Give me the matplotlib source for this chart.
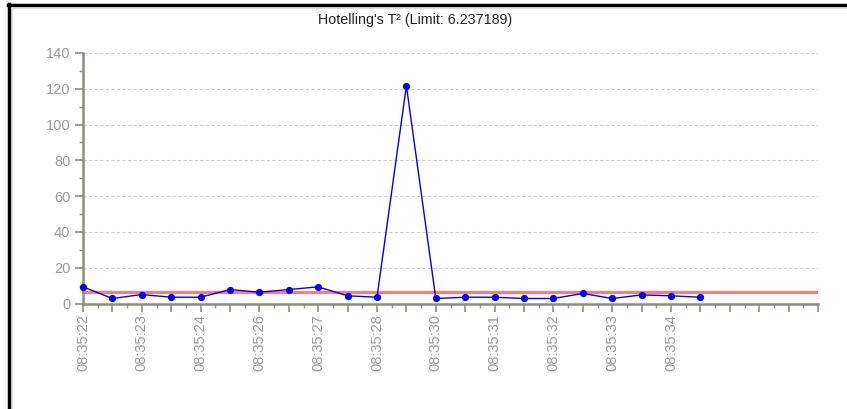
import matplotlib
matplotlib.use("Agg")
import matplotlib.pyplot as plt
from matplotlib.lines import Line2D
from matplotlib.ticker import MultipleLocator

plt.rcParams['font.family'] = ['Liberation Sans', 'DejaVu Sans']

t2_values = [9.3, 2.8, 5.0, 3.5, 3.5, 7.8, 6.3, 7.8, 9.3, 4.3, 3.5,
             121.7, 2.8, 3.5, 3.5, 2.8, 2.8, 5.6, 2.8, 4.8, 4.3, 3.5]
limit = 6.237189
tick_labels = ["08:35:22", "08:35:23", "08:35:24", "08:35:26", "08:35:27",
               "08:35:28", "08:35:30", "08:35:31", "08:35:32", "08:35:33",
               "08:35:34"]
title = "Hotelling's T\u00b2 (Limit: 6.237189)"

W, H = 847, 409
fig = plt.figure(figsize=(W / 100, H / 100), dpi=100)
ax = fig.add_axes([83 / W, 1 - 303.5 / H, (818 - 83) / W, (303.5 - 53) / H])

x = list(range(len(t2_values)))
n_slots = 25
ax.axhline(limit, color='#ff7a7a', lw=2.2, zorder=2)
ax.plot(x, t2_values, color='#0000ff', lw=1.0, marker='o', ms=4.2,
        zorder=3, clip_on=False)

ax.set_xlim(0, n_slots)
ax.set_ylim(0, 140)

axis_color = '#8c8c84'
for s in ['top', 'right']:
    ax.spines[s].set_visible(False)
for s in ['left', 'bottom']:
    ax.spines[s].set_color(axis_color)
    ax.spines[s].set_linewidth(1.8)

ax.yaxis.set_major_locator(MultipleLocator(20))
ax.yaxis.set_minor_locator(MultipleLocator(10))
ax.xaxis.set_minor_locator(MultipleLocator(0.5))

label_pos = [2 * i for i in range(len(tick_labels))]
all_major = list(range(n_slots + 1))
labels = []
for p in all_major:
    if p in label_pos:
        labels.append(tick_labels[label_pos.index(p)])
    else:
        labels.append("")
ax.set_xticks(all_major)
ax.set_xticklabels(labels, rotation=90, va='top', ha='center')

ax.tick_params(axis='both', which='major', length=6, width=1.2,
               color=axis_color, labelcolor='#9a9a9a', labelsize=10.5)
ax.tick_params(axis='both', which='minor', length=3, width=1.0,
               color=axis_color)
ax.tick_params(axis='x', pad=1.5)
ax.tick_params(axis='y', pad=3)

ax.grid(axis='y', which='major', color='#cccccc', linestyle=(0, (3, 2)),
        lw=0.8)
ax.set_axisbelow(True)

fig.text(415 / W, 1 - 20 / H, title, ha='center', va='center',
         fontsize=10.3, color='#222222')

# screenshot frame lines
fig.add_artist(Line2D([8 / W, 1], [1 - 5 / H, 1 - 5 / H], color='black',
                      lw=2.5, transform=fig.transFigure))
fig.add_artist(Line2D([9 / W, 9 / W], [0, 1 - 4 / H], color='black',
                      lw=2.5, transform=fig.transFigure))
fig.add_artist(Line2D([11 / W, 1], [1 - 7.5 / H, 1 - 7.5 / H],
                      color='#dddddd', lw=0.8, transform=fig.transFigure))
fig.add_artist(Line2D([11.5 / W, 11.5 / W], [0, 1 - 7 / H],
                      color='#dddddd', lw=0.8, transform=fig.transFigure))

fig.savefig("out.png", dpi=100)
